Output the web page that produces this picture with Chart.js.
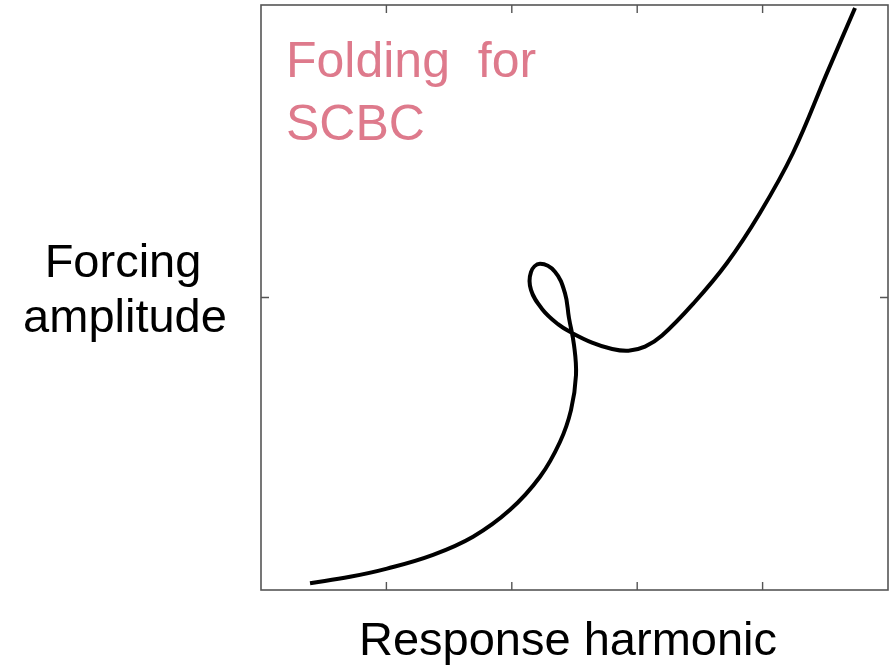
<!DOCTYPE html>
<html>
<head>
<meta charset="utf-8">
<script src="https://cdn.jsdelivr.net/npm/chart.js@4.4.1/dist/chart.umd.min.js"></script>
<style>
  html, body { margin: 0; padding: 0; background: #fff; }
  #wrap { width: 893px; height: 666px; position: relative; }
</style>
</head>
<body>
<div id="wrap"><canvas id="c" width="893" height="666"></canvas></div>
<script>
// curve, in order along the branch
const responseX = [0.391, 0.710, 1.005, 1.372, 1.691, 1.986, 2.225, 2.384, 2.472, 2.512, 2.496, 2.456, 2.424, 2.344, 2.225, 2.153, 2.153, 2.241, 2.368, 2.480, 2.640, 2.800, 2.930, 3.062, 3.198, 3.445, 3.716, 3.979, 4.242, 4.514, 4.737];
const forcingY  = [0.023, 0.045, 0.073, 0.120, 0.182, 0.274, 0.387, 0.506, 0.615, 0.735, 0.838, 0.930, 1.015, 1.088, 1.115, 1.087, 1.026, 0.961, 0.909, 0.879, 0.846, 0.824, 0.818, 0.832, 0.870, 0.978, 1.118, 1.289, 1.494, 1.768, 1.990];
const xTicks = [1, 2, 3, 4];
const yTicks = [1];

const xLabel = 'Response harmonic';
const yLabel = ['Forcing', 'amplitude'];
const noteLines = ['Folding  for', 'SCBC'];

const points = responseX.map((x, i) => ({ x: x, y: forcingY[i] }));

// box, inward ticks and the texts
const frame = {
  id: 'frame',
  afterDraw(chart) {
    const ctx = chart.ctx;
    const a = chart.chartArea;
    const sx = chart.scales.x, sy = chart.scales.y;
    ctx.save();
    ctx.strokeStyle = '#555';
    ctx.lineWidth = 1.6;
    ctx.strokeRect(a.left, a.top, a.right - a.left, a.bottom - a.top);
    ctx.lineWidth = 1.4;
    ctx.beginPath();
    xTicks.forEach(t => {
      const px = sx.getPixelForValue(t);
      ctx.moveTo(px, a.bottom); ctx.lineTo(px, a.bottom - 8);
      ctx.moveTo(px, a.top); ctx.lineTo(px, a.top + 8);
    });
    yTicks.forEach(t => {
      const py = sy.getPixelForValue(t);
      ctx.moveTo(a.left, py); ctx.lineTo(a.left + 8, py);
      ctx.moveTo(a.right, py); ctx.lineTo(a.right - 8, py);
    });
    ctx.stroke();

    ctx.fillStyle = '#000';
    ctx.textAlign = 'center';
    ctx.textBaseline = 'alphabetic';
    ctx.font = '47px "Liberation Sans", Arial, sans-serif';
    ctx.fillText(yLabel[0], 123, 277);
    ctx.fillText(yLabel[1], 125, 332);
    ctx.fillText(xLabel, 568, 655);

    ctx.fillStyle = '#DE7A8C';
    ctx.textAlign = 'left';
    ctx.font = '50px "Liberation Sans", Arial, sans-serif';
    ctx.fillText(noteLines[0], 286, 77);
    ctx.fillText(noteLines[1], 286, 140);
    ctx.restore();
  }
};

new Chart(document.getElementById('c'), {
  type: 'scatter',
  data: {
    datasets: [{
      data: points,
      showLine: true,
      borderColor: '#000',
      borderWidth: 4,
      pointRadius: 0,
      tension: 0.4,
      fill: false
    }]
  },
  options: {
    responsive: false,
    animation: false,
    layout: { padding: { left: 261, right: 5, top: 5, bottom: 76 } },
    plugins: { legend: { display: false }, tooltip: { enabled: false } },
    scales: {
      x: { type: 'linear', min: 0, max: 5, display: false },
      y: { type: 'linear', min: 0, max: 2, display: false }
    }
  },
  plugins: [frame]
});
</script>
</body>
</html>
